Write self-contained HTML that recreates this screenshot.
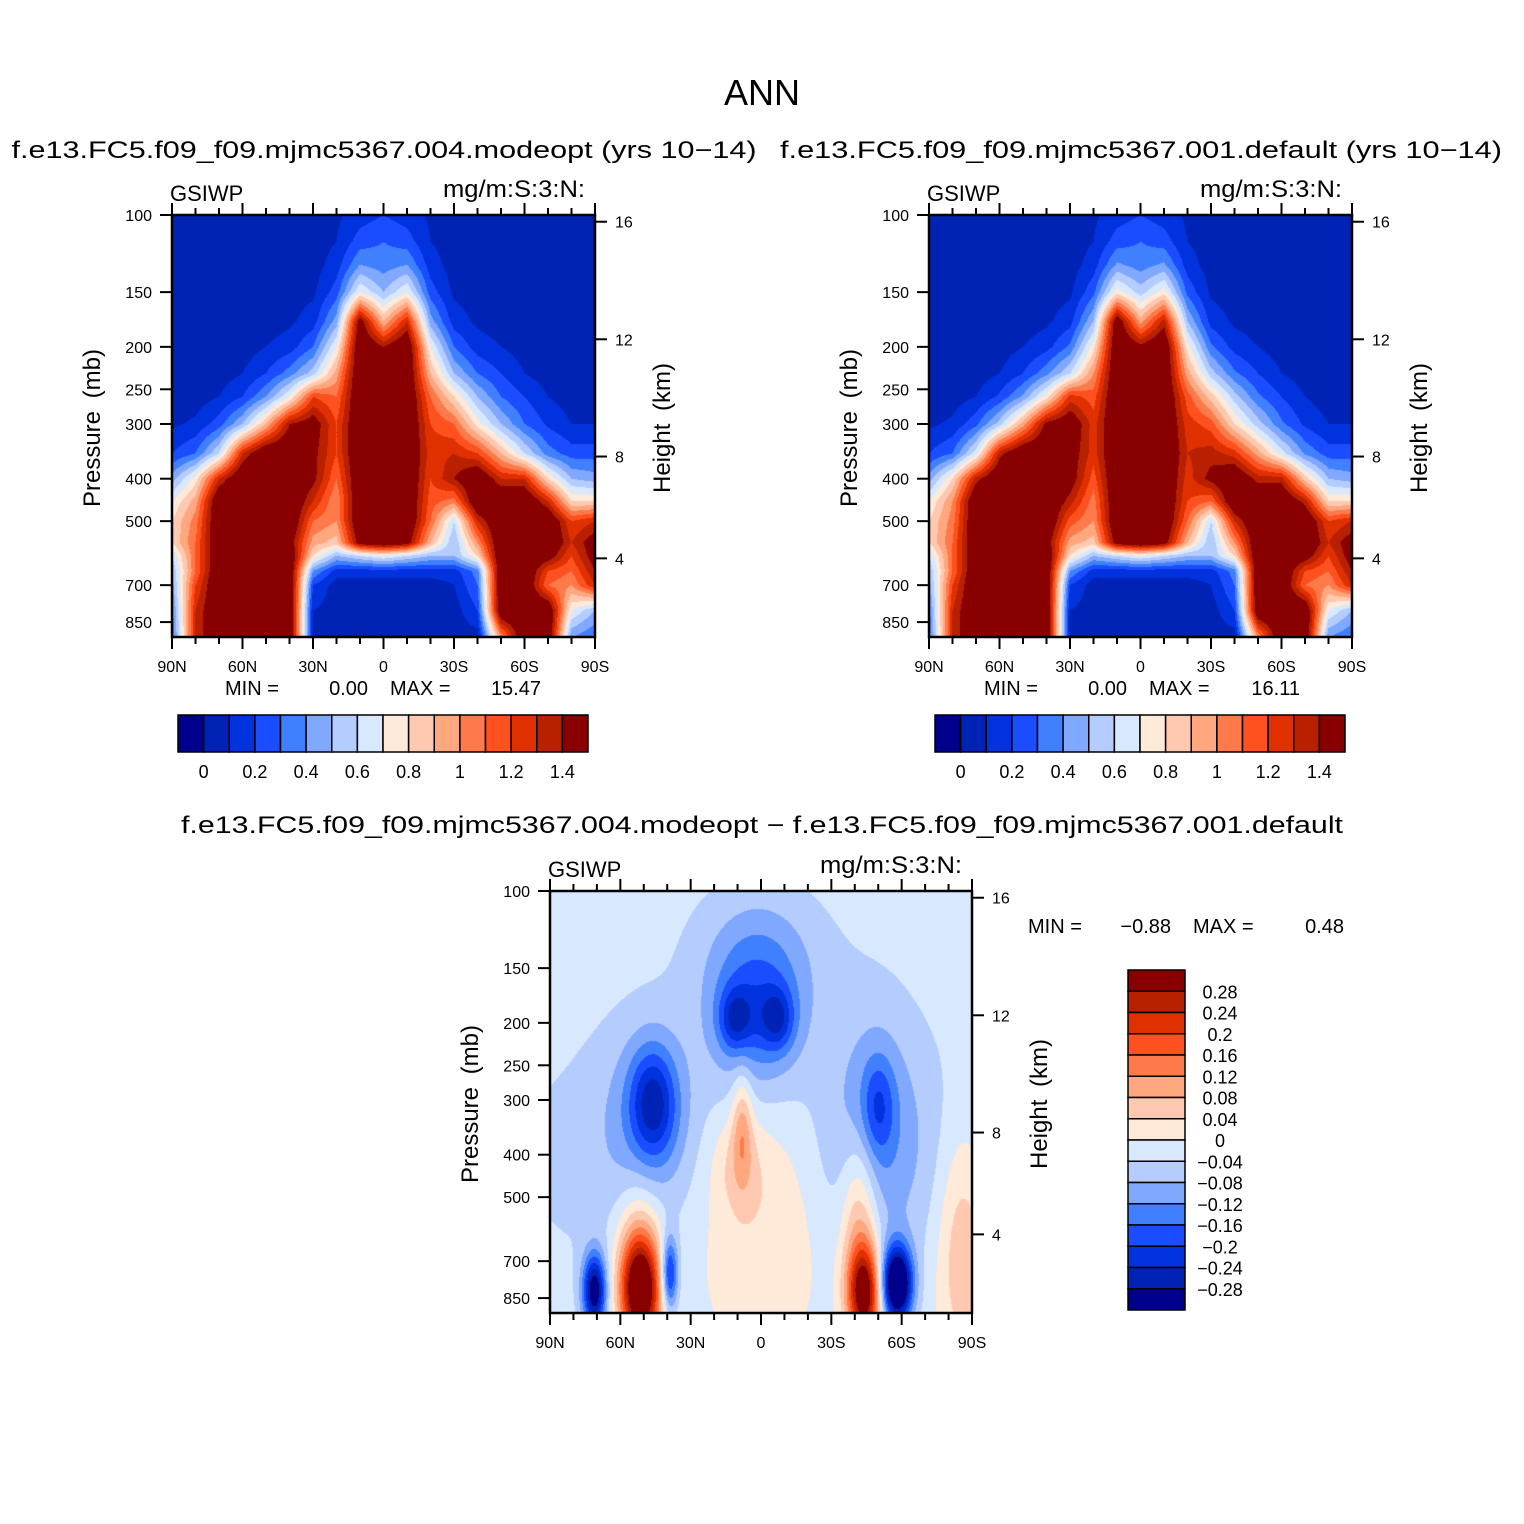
<!DOCTYPE html>
<html><head><meta charset="utf-8"><style>
body{margin:0;background:#fff;}
#root{position:relative;width:1524px;height:1524px;overflow:hidden;background:#fff;}
canvas{position:absolute;}
svg{position:absolute;left:0;top:0;}
text{font-family:"Liberation Sans",sans-serif;fill:#000;}
</style></head><body>
<div id="root">
<canvas id="c1" width="423" height="422" style="left:172px;top:215px"></canvas>
<canvas id="c2" width="423" height="422" style="left:929px;top:215px"></canvas>
<canvas id="c3" width="422" height="422" style="left:550px;top:891px"></canvas>
<svg id="ov" width="1524" height="1524"></svg>
</div>
<script>
// ---- data ----
const lats = [90,80,70,60,50,40,30,20,10,0,-10,-20,-30,-40,-50,-60,-70,-80,-90];
const pLevels = [100,115,130,150,175,200,230,260,300,350,400,450,500,560,600,650,700,800,920];
const gridModeopt = [
[.05,.05,.05,.05,.05,.05,.05,.08,.15,.2,.15,.08,.05,.05,.05,.05,.05,.05,.05],
[.05,.05,.05,.05,.05,.05,.05,.1,.25,.3,.25,.1,.05,.05,.05,.05,.05,.05,.05],
[.05,.05,.05,.05,.05,.05,.05,.15,.4,.35,.4,.15,.05,.05,.05,.05,.05,.05,.05],
[.05,.05,.05,.05,.05,.05,.08,.25,.7,.5,.7,.25,.08,.05,.05,.05,.05,.05,.05],
[.05,.05,.05,.05,.05,.08,.15,.45,1.5,.9,1.3,.45,.15,.08,.05,.05,.05,.05,.05],
[.05,.05,.05,.05,.1,.15,.3,.7,1.6,1.4,1.6,.7,.3,.15,.1,.05,.05,.05,.05],
[.05,.05,.05,.1,.2,.35,.55,.95,1.6,1.6,1.6,.9,.5,.3,.2,.1,.05,.05,.05],
[.05,.05,.1,.2,.4,.7,1.2,1.1,1.6,1.6,1.6,1.1,.8,.5,.3,.2,.1,.05,.05],
[.08,.12,.25,.5,.9,1.4,1.5,1.2,1.6,1.6,1.6,1.2,1.1,.75,.5,.3,.18,.1,.1],
[.2,.3,.6,1.3,1.6,1.6,1.45,1.2,1.6,1.6,1.6,1.25,1.3,1.2,.9,.6,.35,.25,.25],
[.45,.75,1.3,1.6,1.6,1.6,1.45,1.1,1.6,1.6,1.6,1.2,1.4,1.6,1.3,1.3,.8,.5,.45],
[.7,.95,1.6,1.6,1.6,1.6,1.3,1.0,1.6,1.6,1.6,1.15,1.05,1.6,1.6,1.6,1.3,.8,.8],
[.8,1.05,1.6,1.6,1.6,1.6,1.1,1.0,1.6,1.6,1.6,1.1,.6,1.3,1.6,1.6,1.6,1.2,1.3],
[.8,1.1,1.6,1.6,1.6,1.5,.95,.85,1.5,1.6,1.5,.9,.5,1.0,1.6,1.6,1.6,1.3,1.5],
[.6,1.1,1.6,1.6,1.6,1.6,.8,.5,.6,.7,.6,.5,.5,.8,1.6,1.6,1.5,1.2,1.5],
[.5,1.1,1.6,1.6,1.6,1.6,.4,.15,.15,.15,.15,.15,.15,.35,1.6,1.6,1.2,1.1,1.4],
[.45,1.2,1.6,1.6,1.6,1.6,.2,.05,.05,.05,.05,.05,.1,.3,1.6,1.6,1.1,1.0,1.3],
[.35,1.3,1.6,1.6,1.6,1.6,.1,.05,.05,.05,.05,.05,.05,.2,1.6,1.6,1.6,.7,.5],
[.3,1.3,1.6,1.6,1.6,1.6,.1,.05,.05,.05,.05,.05,.05,.05,1.0,1.6,1.6,.4,.3]];
const gridDefault = [
[.05,.05,.05,.05,.05,.05,.05,.08,.15,.2,.15,.08,.05,.05,.05,.05,.05,.05,.05],
[.05,.05,.05,.05,.05,.05,.05,.1,.25,.3,.25,.1,.05,.05,.05,.05,.05,.05,.05],
[.05,.05,.05,.05,.05,.05,.05,.15,.42,.35,.42,.15,.05,.05,.05,.05,.05,.05,.05],
[.05,.05,.05,.05,.05,.05,.08,.27,.75,.55,.75,.27,.08,.05,.05,.05,.05,.05,.05],
[.05,.05,.05,.05,.05,.08,.16,.5,1.55,.95,1.35,.5,.16,.08,.05,.05,.05,.05,.05],
[.05,.05,.05,.05,.1,.16,.32,.75,1.6,1.45,1.6,.75,.32,.16,.1,.05,.05,.05,.05],
[.05,.05,.05,.1,.2,.37,.6,1.0,1.6,1.6,1.6,.95,.55,.32,.2,.1,.05,.05,.05],
[.05,.05,.1,.22,.42,.75,1.25,1.15,1.6,1.6,1.6,1.15,.85,.55,.32,.2,.1,.05,.05],
[.08,.12,.27,.55,.95,1.45,1.55,1.25,1.6,1.6,1.6,1.25,1.15,.8,.55,.32,.18,.1,.1],
[.2,.3,.65,1.35,1.6,1.6,1.5,1.25,1.6,1.6,1.6,1.3,1.35,1.25,.95,.65,.38,.25,.25],
[.45,.8,1.35,1.6,1.6,1.6,1.5,1.15,1.6,1.6,1.6,1.25,1.45,1.6,1.35,1.35,.85,.5,.45],
[.7,1.0,1.6,1.6,1.6,1.6,1.35,1.05,1.6,1.6,1.6,1.2,1.1,1.6,1.6,1.6,1.35,.8,.8],
[.8,1.05,1.6,1.6,1.6,1.6,1.15,1.0,1.6,1.6,1.6,1.1,.6,1.3,1.6,1.6,1.6,1.2,1.3],
[.8,1.1,1.6,1.6,1.6,1.5,.95,.85,1.5,1.6,1.5,.9,.5,1.0,1.6,1.6,1.6,1.3,1.5],
[.6,1.1,1.6,1.6,1.6,1.6,.8,.5,.6,.7,.6,.5,.5,.8,1.6,1.6,1.5,1.2,1.5],
[.5,1.1,1.6,1.6,1.6,1.6,.4,.15,.15,.15,.15,.15,.15,.35,1.6,1.6,1.2,1.1,1.4],
[.45,1.2,1.6,1.6,1.6,1.6,.2,.05,.05,.05,.05,.05,.1,.3,1.6,1.6,1.1,1.0,1.3],
[.35,1.3,1.6,1.6,1.6,1.6,.1,.05,.05,.05,.05,.05,.05,.2,1.6,1.6,1.6,.7,.5],
[.3,1.3,1.6,1.6,1.6,1.6,.1,.05,.05,.05,.05,.05,.05,.05,1.0,1.6,1.6,.4,.3]];
// difference field features: center lat, center pressure, amplitude, lat width (deg), log-p width
const diffBackground = -0.02;
const diffLat  = [2,   11,  -7,  46,  48,  -50, -48, 0,   0,   8,   51.5, 71,  39,  -44, -42, -58, -86, 0,   52,  10];
const diffP    = [190, 196, 196, 305, 320, 310, 340, 400, 480, 340, 820,  820, 750, 830, 550, 790, 650, 140, 650, 420];
const diffAmp  = [-.14,-.12,-.12,-.17,-.06,-.1,-.07,-.06,.1,  .1,  .38,  -.3, -.22,.34, .12, -.4, .1,  -.05, .08, .05];
const diffSLat = [14,  5,   5,   7,   14,  5,   14,  70,  24,  3,   6,    3.5, 2.5, 5,   5.5, 4.5, 8,   22,  7,   8];
const diffSLp  = [.13, .05, .05, .09, .15, .08, .2,  .2,  .22, .09, .09,  .06, .06, .08, .14, .06, .2,  .12, .12, .08];
const colors = ["#00008c","#0022b5","#0033dd","#1a4dff","#4080ff","#80a8ff","#b4ccff","#d8e8ff","#ffe9d8","#ffc8b0","#ffa880","#ff7a4a","#ff5020","#e03000","#b82000","#880000"];
const absLabels = ["0","0.2","0.4","0.6","0.8","1","1.2","1.4"];
const diffLabels = ["0.28","0.24","0.2","0.16","0.12","0.08","0.04","0","\u22120.04","\u22120.08","\u22120.12","\u22120.16","\u22120.2","\u22120.24","\u22120.28"];
const latTickLabels = ["90N","60N","30N","0","30S","60S","90S"];
const presTicks = [100,150,200,250,300,400,500,700,850];
const heightTicks = [16,12,8,4];
const heightTickP = [103.6,192.2,356,608];

// ---- helpers ----
const PXDEC = 438, PH = 422;
function yOfP(p){return (Math.log10(p)-2)*PXDEC;}
function hex(c){return [parseInt(c.substr(1,2),16),parseInt(c.substr(3,2),16),parseInt(c.substr(5,2),16)];}
const rgb = colors.map(hex);
function gridVal(grid, lat, p){
  let fi = (90-lat)/10; fi=Math.max(0,Math.min(lats.length-1.0001,fi));
  const i=Math.floor(fi), tx=fi-i;
  const lp=Math.log10(p); let j=0;
  while(j<pLevels.length-2 && Math.log10(pLevels[j+1])<lp) j++;
  const a=Math.log10(pLevels[j]), b=Math.log10(pLevels[j+1]);
  let ty=(lp-a)/(b-a); ty=Math.max(0,Math.min(1,ty));
  const v00=grid[j][i], v01=grid[j][i+1], v10=grid[j+1][i], v11=grid[j+1][i+1];
  return (v00*(1-tx)+v01*tx)*(1-ty)+(v10*(1-tx)+v11*tx)*ty;
}
function diffVal(lat,p){
  let v=diffBackground; const lp=Math.log10(p);
  for(let k=0;k<diffLat.length;k++){
    const dx=(lat-diffLat[k])/diffSLat[k], dy=(lp-Math.log10(diffP[k]))/diffSLp[k];
    v+=diffAmp[k]*Math.exp(-0.5*(dx*dx+dy*dy));
  }
  return v;
}
function drawField(id, fn, binFn){
  const c=document.getElementById(id), ctx=c.getContext('2d');
  const W=c.width,H=c.height, img=ctx.createImageData(W,H);
  for(let y=0;y<H;y++){
    const p=Math.pow(10,2+(y+0.5)/PXDEC);
    for(let x=0;x<W;x++){
      const lat=90-180*(x+0.5)/W;
      const col=rgb[binFn(fn(lat,p))], o=(y*W+x)*4;
      img.data[o]=col[0];img.data[o+1]=col[1];img.data[o+2]=col[2];img.data[o+3]=255;
    }
  }
  ctx.putImageData(img,0,0);
}
const absBin=v=>v<0?0:Math.min(15,Math.floor(v/0.1)+1);
const diffBin=v=>Math.max(0,Math.min(15,Math.floor((v+0.28)/0.04)+1));
drawField('c1',(a,p)=>gridVal(gridModeopt,a,p),absBin);
drawField('c2',(a,p)=>gridVal(gridDefault,a,p),absBin);
drawField('c3',diffVal,diffBin);

// ---- overlay ----
const NS="http://www.w3.org/2000/svg", ov=document.getElementById('ov');
function el(tag,attrs,txt){const e=document.createElementNS(NS,tag);for(const k in attrs)e.setAttribute(k,attrs[k]);if(txt!==undefined)e.textContent=txt;ov.appendChild(e);return e;}
function txt(x,y,s,size,anchor,name,extra){
  const t=el('text',Object.assign({x:x,y:y,'font-size':size,'text-anchor':anchor||'start'},extra||{}),s);
  
  
  return t;
}
txt(762,105,"ANN",36,"middle","main-title");
txt(384,158,"f.e13.FC5.f09_f09.mjmc5367.004.modeopt (yrs 10\u221214)",24,"middle","left-panel-title",{textLength:745,lengthAdjust:"spacingAndGlyphs"});
txt(1141,158,"f.e13.FC5.f09_f09.mjmc5367.001.default (yrs 10\u221214)",24,"middle","right-panel-title",{textLength:722,lengthAdjust:"spacingAndGlyphs"});
txt(762,833,"f.e13.FC5.f09_f09.mjmc5367.004.modeopt \u2212 f.e13.FC5.f09_f09.mjmc5367.001.default",24,"middle","difference-panel-title",{textLength:1162,lengthAdjust:"spacingAndGlyphs"});

function axes(x0,y0,W,pref){
  const f=el('rect',{x:x0,y:y0,width:W,height:PH,fill:'none',stroke:'#000','stroke-width':2.5});
  
  
  for(let k=0;k<=18;k++){
    const x=x0+W*k/18, L=(k%3===0)?12:7;
    const t1=el('line',{x1:x,y1:y0,x2:x,y2:y0-L,stroke:'#000','stroke-width':2});
    
    
    const t2=el('line',{x1:x,y1:y0+PH,x2:x,y2:y0+PH+L,stroke:'#000','stroke-width':2});
    
    
  }
  latTickLabels.forEach((s,k)=>txt(x0+W*k/6,y0+PH+35,s,16,"middle",pref+'-lat-label'));
  presTicks.forEach(p=>{
    const y=y0+yOfP(p);
    const t=el('line',{x1:x0,y1:y,x2:x0-12,y2:y,stroke:'#000','stroke-width':2});
    
    
    txt(x0-20,y+6,String(p),16,"end",pref+'-pressure-label');
  });
  heightTicks.forEach((h,k)=>{
    const y=y0+yOfP(heightTickP[k]);
    const t=el('line',{x1:x0+W,y1:y,x2:x0+W+12,y2:y,stroke:'#000','stroke-width':2});
    
    
    txt(x0+W+20,y+6,String(h),16,"start",pref+'-height-label');
  });
  txt(x0-2,y0-14,"GSIWP",22,"start",pref+'-variable-label');
  txt(x0+W-10,y0-18,"mg/m:S:3:N:",24,"end",pref+'-units-label',{textLength:142,lengthAdjust:"spacingAndGlyphs"});
  txt(0,0,"Pressure (mb)",24,"middle",pref+'-y-axis-title',{transform:`translate(${x0-72},${y0+213}) rotate(-90)`,'word-spacing':6});
  txt(0,0,"Height (km)",24,"middle",pref+'-right-axis-title',{transform:`translate(${x0+W+75},${y0+213}) rotate(-90)`,'word-spacing':6});
}
axes(172,215,423,'left');
axes(929,215,423,'right');
axes(550,891,422,'diff');

function minmax(x,y,mn,mx,pref){
  txt(x,y,"MIN =",20,"start",pref+'-min-label');
  txt(x+143,y,mn,20,"end",pref+'-min-value');
  txt(x+165,y,"MAX =",20,"start",pref+'-max-label');
  txt(x+316,y,mx,20,"end",pref+'-max-value');
}
minmax(225,695,"0.00","15.47",'left');
minmax(984,695,"0.00","16.11",'right');
minmax(1028,933,"\u22120.88","0.48",'diff');

function hbar(x0,y0,pref){
  const bw=410/16;
  colors.forEach((c,k)=>{
    const r=el('rect',{x:x0+bw*k,y:y0,width:bw,height:37,fill:c,stroke:'#000','stroke-width':1.5});
    
    
  });
  absLabels.forEach((s,k)=>txt(x0+bw*(1+2*k),y0+63,s,18,"middle",pref+'-colorbar-label'));
}
hbar(178,715,'left');
hbar(935,715,'right');
const vbh=340/16;
colors.slice().reverse().forEach((c,k)=>{
  const r=el('rect',{x:1128,y:970+vbh*k,width:57,height:vbh,fill:c,stroke:'#000','stroke-width':1.5});
  
  
});
diffLabels.forEach((s,k)=>txt(1220,970+vbh*(k+1)+7,s,18,"middle",'diff-colorbar-label'));
</script>
</body></html>
